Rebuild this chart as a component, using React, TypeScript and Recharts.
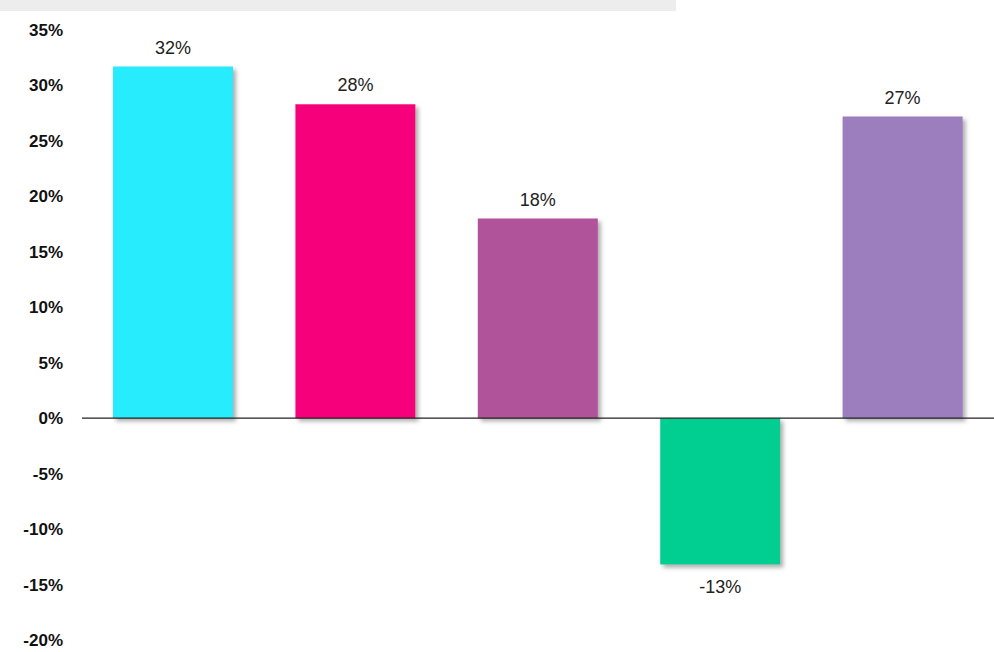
import React from "react";
import { BarChart, Bar, XAxis, YAxis, ReferenceLine, Cell, LabelList } from "recharts";

const categories = ["A", "B", "C", "D", "E"];
const values = [31.7, 28.3, 18.0, -13.2, 27.2];
const labels = ["32%", "28%", "18%", "-13%", "27%"];
const colors = ["#26ECFD", "#F7007B", "#B1529B", "#00CF91", "#9C7DBD"];
const yTicks = [-20, -15, -10, -5, 0, 5, 10, 15, 20, 25, 30, 35];

const data = categories.map((c, i) => ({ name: c, value: values[i], label: labels[i] }));

const renderLabel = (props: any) => {
  const { x, y, width, height, index } = props;
  const v = values[index];
  const cx = x + width / 2;
  const top = Math.min(y, y + height);
  const bottom = Math.max(y, y + height);
  const ty = v >= 0 ? top - 13 : bottom + 28;
  return (
    <text x={cx} y={ty} textAnchor="middle" fontSize={18} fill="#222" fontFamily="'Liberation Sans', Arial, sans-serif">
      {labels[index]}
    </text>
  );
};

export default function App() {
  return (
    <div style={{ position: "absolute", left: 0, top: 0, width: 994, height: 652, background: "#fff" }}>
      <div style={{ position: "absolute", left: 0, top: 0, width: 676, height: 11, background: "#ededed" }} />
      <BarChart width={994} height={652} data={data} margin={{ top: 30, right: 0, bottom: 12, left: 0 }}>
        <defs>
          <filter id="shadow" x="-10%" y="-10%" width="130%" height="130%">
            <feDropShadow dx="3" dy="3" stdDeviation="2" floodColor="#777" floodOpacity="0.6" />
          </filter>
        </defs>
        <XAxis dataKey="name" hide />
        <YAxis
          width={82}
          domain={[-20, 35]}
          ticks={yTicks}
          interval={0}
          axisLine={false}
          tickLine={false}
          tickSize={0}
          tickMargin={19}
          tickFormatter={(v: number) => `${v}%`}
          tick={{ fontSize: 17, fontWeight: 700, fill: "#111", fontFamily: "'Liberation Sans', Arial, sans-serif" }}
        />
        <ReferenceLine y={0} stroke="#222" strokeWidth={1.2} />
        <Bar dataKey="value" barSize={120} isAnimationActive={false} style={{ filter: "url(#shadow)" }}>
          {data.map((d, i) => (
            <Cell key={d.name} fill={colors[i]} />
          ))}
          <LabelList dataKey="label" content={renderLabel} />
        </Bar>
      </BarChart>
    </div>
  );
}
